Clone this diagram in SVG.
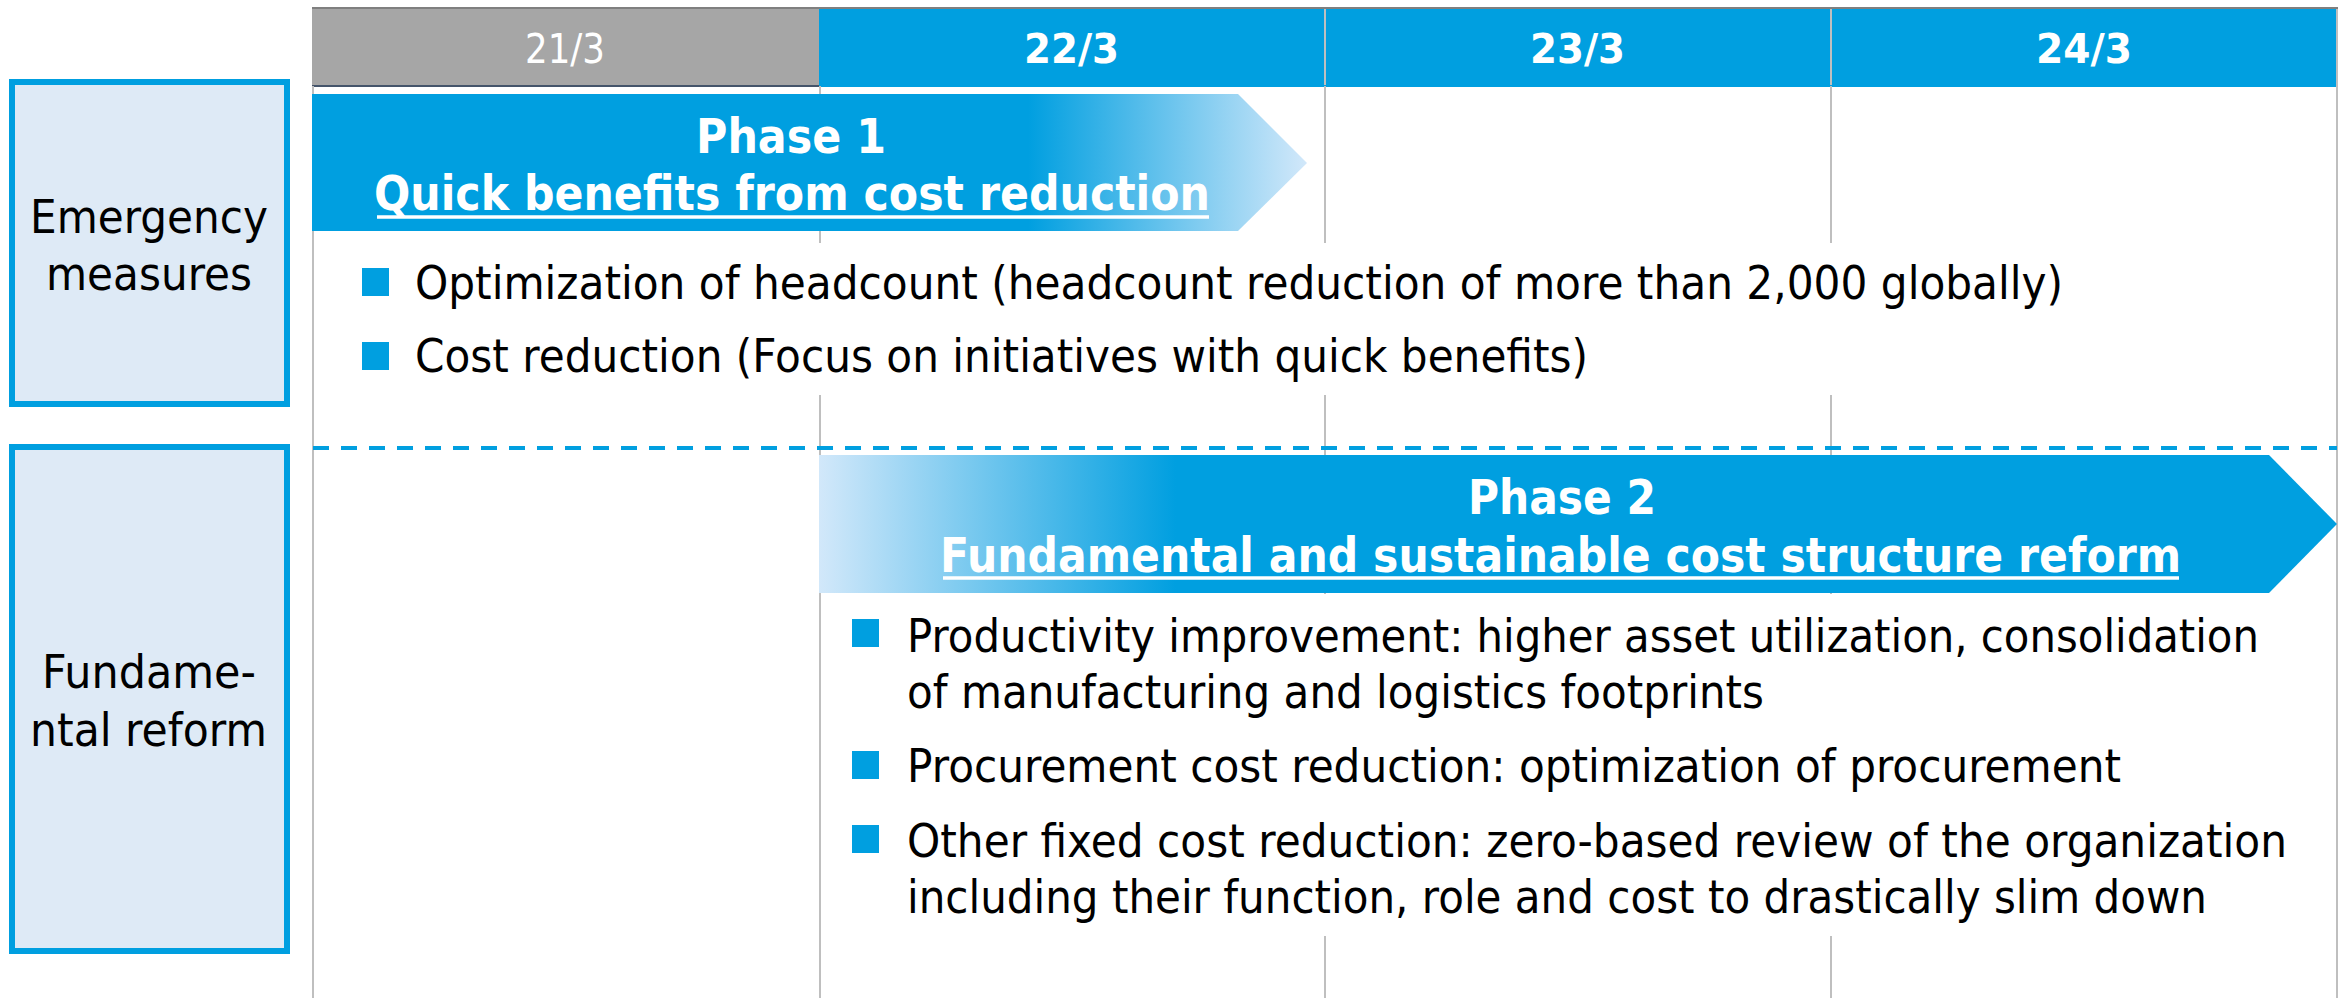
<svg xmlns="http://www.w3.org/2000/svg" width="2346" height="998" viewBox="0 0 2346 998">
<defs>
<linearGradient id="g1" x1="0" y1="0" x2="1" y2="0">
<stop offset="0" stop-color="#009FE0"/>
<stop offset="0.72" stop-color="#009FE0"/>
<stop offset="1" stop-color="#D2E8FA"/>
</linearGradient>
<linearGradient id="g2" x1="0" y1="0" x2="1" y2="0">
<stop offset="0" stop-color="#D2E8FA"/>
<stop offset="0.235" stop-color="#009FE0"/>
<stop offset="1" stop-color="#009FE0"/>
</linearGradient>
<style>
.grid{stroke:#BFBFBF;stroke-width:2}
.lbl{fill:#DEEAF6;stroke:#009FE0;stroke-width:6}
text{font-family:"DejaVu Sans",Verdana,sans-serif}
.body{font-size:46px;fill:#000000}
.lab{font-size:47px;fill:#000000}
.hd{font-size:40px;fill:#FFFFFF}
.hdb{font-weight:bold}
.ph{font-size:48px;font-weight:bold;fill:#FFFFFF}
.bul{fill:#009FE0}
.ul{stroke:#FFFFFF;stroke-width:3.5}
.mask{fill:#FFFFFF}
</style>
</defs>
<rect width="2346" height="998" fill="#FFFFFF"/>

<g id="header">
<rect x="312" y="7" width="2026" height="2" fill="#7F7F7F"/>
<rect x="312" y="9" width="507" height="77" fill="#A6A6A6"/>
<rect x="312" y="85" width="507" height="2" fill="#44546A"/>
<rect x="819" y="9" width="1518" height="78" fill="#009FE0"/>
<line class="grid" x1="1325" y1="9" x2="1325" y2="85"/>
<line class="grid" x1="1831" y1="9" x2="1831" y2="85"/>
<text class="hd" x="525" y="63" textLength="80" lengthAdjust="spacingAndGlyphs">21/3</text>
<text class="hd hdb" x="1024" y="63" textLength="95" lengthAdjust="spacingAndGlyphs">22/3</text>
<text class="hd hdb" x="1530" y="63" textLength="95" lengthAdjust="spacingAndGlyphs">23/3</text>
<text class="hd hdb" x="2036" y="63" textLength="96" lengthAdjust="spacingAndGlyphs">24/3</text>
</g>

<g id="grid">
<line class="grid" x1="313" y1="86" x2="313" y2="998"/>
<line class="grid" x1="820" y1="86" x2="820" y2="998"/>
<line class="grid" x1="1325" y1="86" x2="1325" y2="998"/>
<line class="grid" x1="1831" y1="86" x2="1831" y2="998"/>
<line class="grid" x1="2337" y1="9" x2="2337" y2="998"/>
<rect class="mask" x="316" y="243" width="2018" height="152"/>
<rect class="mask" x="823" y="594" width="1511" height="342"/>
</g>

<g id="connectors">
<line x1="313" y1="448" x2="2337" y2="448" stroke="#009FE0" stroke-width="4" stroke-dasharray="16 12"/>
</g>

<g id="label-emergency">
<rect class="lbl" x="12" y="82" width="275" height="322"/>
<text class="lab" x="30" y="233" textLength="238" lengthAdjust="spacingAndGlyphs">Emergency</text>
<text class="lab" x="46" y="290" textLength="206" lengthAdjust="spacingAndGlyphs">measures</text>
</g>

<g id="label-fundamental">
<rect class="lbl" x="12" y="447" width="275" height="504"/>
<text class="lab" x="42" y="688" textLength="214" lengthAdjust="spacingAndGlyphs">Fundame-</text>
<text class="lab" x="30" y="746" textLength="237" lengthAdjust="spacingAndGlyphs">ntal reform</text>
</g>

<g id="phase1">
<polygon points="312,94 1238,94 1307,163 1238,231 312,231" fill="url(#g1)"/>
<text class="ph" x="696" y="153" textLength="190" lengthAdjust="spacingAndGlyphs">Phase 1</text>
<text class="ph" x="374" y="210" textLength="836" lengthAdjust="spacingAndGlyphs">Quick benefits from cost reduction</text>
<line class="ul" x1="377" y1="217" x2="1209" y2="217"/>
</g>

<g id="emergency-items">
<rect class="bul" x="362" y="268" width="27" height="28"/>
<text class="body" x="415" y="299" textLength="1648" lengthAdjust="spacingAndGlyphs">Optimization of headcount (headcount reduction of more than 2,000 globally)</text>
<rect class="bul" x="362" y="342" width="27" height="28"/>
<text class="body" x="415" y="372" textLength="1173" lengthAdjust="spacingAndGlyphs">Cost reduction (Focus on initiatives with quick benefits)</text>
</g>

<g id="phase2">
<polygon points="819,455 2269,455 2337,524 2269,593 819,593" fill="url(#g2)"/>
<text class="ph" x="1468" y="514" textLength="188" lengthAdjust="spacingAndGlyphs">Phase 2</text>
<text class="ph" x="940" y="572" textLength="1241" lengthAdjust="spacingAndGlyphs">Fundamental and sustainable cost structure reform</text>
<line class="ul" x1="943" y1="578" x2="2179" y2="578"/>
</g>

<g id="reform-items">
<rect class="bul" x="852" y="619" width="27" height="28"/>
<text class="body" transform="translate(907,652) scale(0.915,1)" x="0" y="0" textLength="1477.6" lengthAdjust="spacingAndGlyphs">Productivity improvement: higher asset utilization, consolidation</text>
<text class="body" x="907" y="708" textLength="857" lengthAdjust="spacingAndGlyphs">of manufacturing and logistics footprints</text>
<rect class="bul" x="852" y="751" width="27" height="28"/>
<text class="body" x="907" y="782" textLength="1214" lengthAdjust="spacingAndGlyphs">Procurement cost reduction: optimization of procurement</text>
<rect class="bul" x="852" y="825" width="27" height="28"/>
<text class="body" transform="translate(907,857) scale(0.915,1)" x="0" y="0" textLength="1508.2" lengthAdjust="spacingAndGlyphs">Other fixed cost reduction: zero-based review of the organization</text>
<text class="body" x="907" y="913" textLength="1300" lengthAdjust="spacingAndGlyphs">including their function, role and cost to drastically slim down</text>
</g>
</svg>
